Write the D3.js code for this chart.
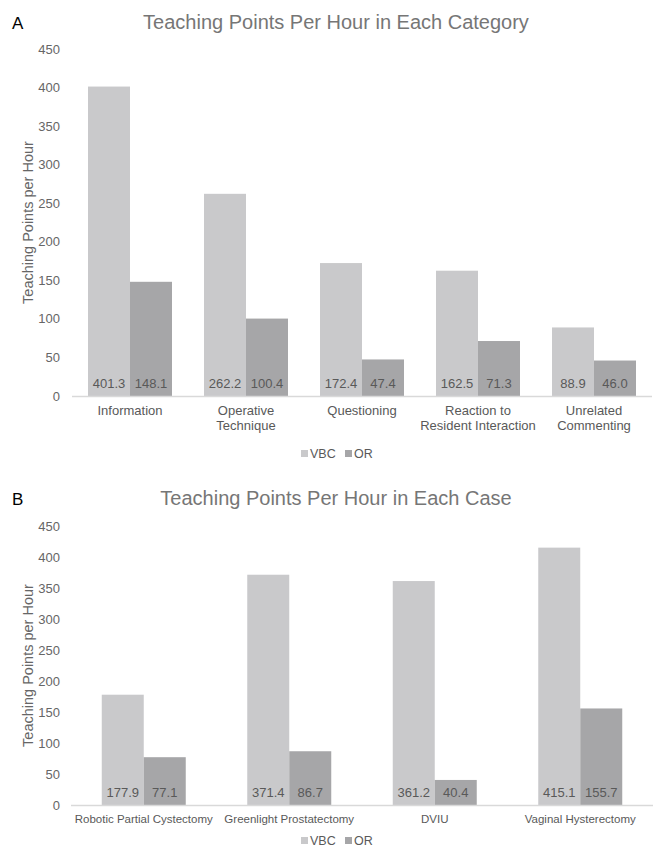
<!DOCTYPE html>
<html><head><meta charset="utf-8">
<script src="https://cdn.jsdelivr.net/npm/d3@7"></script>
<style>body{margin:0;background:#fff}svg{display:block}text{font-family:"Liberation Sans",Arial,sans-serif}</style>
</head><body>
<svg id="c" width="660" height="848"></svg>
<script>
const seriesNames = ["VBC", "OR"];
const categoriesA = [["Information"], ["Operative", "Technique"], ["Questioning"], ["Reaction to", "Resident Interaction"], ["Unrelated", "Commenting"]];
const vbcA = [401.3, 262.2, 172.4, 162.5, 88.9];
const orA = [148.1, 100.4, 47.4, 71.3, 46.0];
const categoriesB = [["Robotic Partial Cystectomy"], ["Greenlight Prostatectomy"], ["DVIU"], ["Vaginal Hysterectomy"]];
const vbcB = [177.9, 371.4, 361.2, 415.1];
const orB = [77.1, 86.7, 40.4, 155.7];
const yTicks = [0, 50, 100, 150, 200, 250, 300, 350, 400, 450];

const colors = {VBC: "#c9c9cb", OR: "#a6a6a8"};
const svg = d3.select("#c");

function panel(opt) {
  const g = svg.append("g");
  const labels = opt.cats.map(c => c.join(" "));
  const x = d3.scaleBand().domain(labels).range([opt.x0, opt.x1]);
  const y = d3.scaleLinear().domain([0, 450]).range([opt.y0, opt.y1]);
  const sub = d3.scaleBand().domain(seriesNames).range([0, 84]);
  const off = (x.bandwidth() - 84) / 2;

  g.append("text").attr("x", 12).attr("y", opt.titleY).attr("font-size", 17).attr("fill", "#000").text(opt.letter);
  g.append("text").attr("x", 336).attr("y", opt.titleY).attr("text-anchor", "middle").attr("font-size", 20).attr("fill", "#767676").text(opt.title);

  // y ticks
  g.selectAll(".yt").data(yTicks).join("text")
    .attr("x", 60).attr("y", d => y(d)).attr("dy", "0.35em").attr("text-anchor", "end")
    .attr("font-size", 13).attr("fill", "#666").text(d => d);

  g.append("text").attr("transform", `translate(28,${(opt.y0 + opt.y1) / 2}) rotate(-90)`)
    .attr("dy", "0.35em").attr("text-anchor", "middle").attr("font-size", 14.5).attr("fill", "#666").text("Teaching Points per Hour");

  const data = [];
  labels.forEach((l, i) => {
    data.push({cat: l, s: "VBC", v: opt.vbc[i]});
    data.push({cat: l, s: "OR", v: opt.or[i]});
  });
  g.selectAll(".bar").data(data).join("rect")
    .attr("x", d => x(d.cat) + off + sub(d.s)).attr("width", sub.bandwidth())
    .attr("y", d => y(d.v)).attr("height", d => y(0) - y(d.v))
    .attr("fill", d => colors[d.s]);
  g.selectAll(".val").data(data).join("text")
    .attr("x", d => x(d.cat) + off + sub(d.s) + sub.bandwidth() / 2).attr("y", y(0) - 8)
    .attr("text-anchor", "middle").attr("font-size", 13).attr("fill", "#595959")
    .text(d => d.v.toFixed(1));

  g.append("line").attr("x1", opt.x0).attr("x2", opt.x1).attr("y1", y(0) + 0.5).attr("y2", y(0) + 0.5)
    .attr("stroke", "#d9d9d9").attr("stroke-width", 1.5);

  opt.cats.forEach((c, i) => {
    const t = g.append("text").attr("x", x(labels[i]) + x.bandwidth() / 2).attr("y", y(0) + opt.catDy)
      .attr("text-anchor", "middle").attr("font-size", opt.catSize).attr("fill", "#595959");
    c.forEach((line, j) => t.append("tspan").attr("x", x(labels[i]) + x.bandwidth() / 2).attr("dy", j === 0 ? 0 : 15).text(line));
  });

  // legend
  const ly = y(0) + opt.legDy;
  const lg = g.append("g");
  const items = [{s: "VBC", x: 301}, {s: "OR", x: 345}];
  items.forEach(it => {
    lg.append("rect").attr("x", it.x).attr("y", ly - 8).attr("width", 7).attr("height", 7).attr("fill", colors[it.s]);
    lg.append("text").attr("x", it.x + 9).attr("y", ly).attr("font-size", 12.5).attr("fill", "#595959").text(it.s);
  });
}

panel({letter: "A", title: "Teaching Points Per Hour in Each Category", titleY: 29,
  cats: categoriesA, vbc: vbcA, or: orA, x0: 72, x1: 652, y0: 396, y1: 49, catDy: 19, catSize: 13, legDy: 62});
panel({letter: "B", title: "Teaching Points Per Hour in Each Case", titleY: 505,
  cats: categoriesB, vbc: vbcB, or: orB, x0: 71, x1: 653, y0: 805, y1: 526, catDy: 18, catSize: 11.5, legDy: 40});
</script>
</body></html>
